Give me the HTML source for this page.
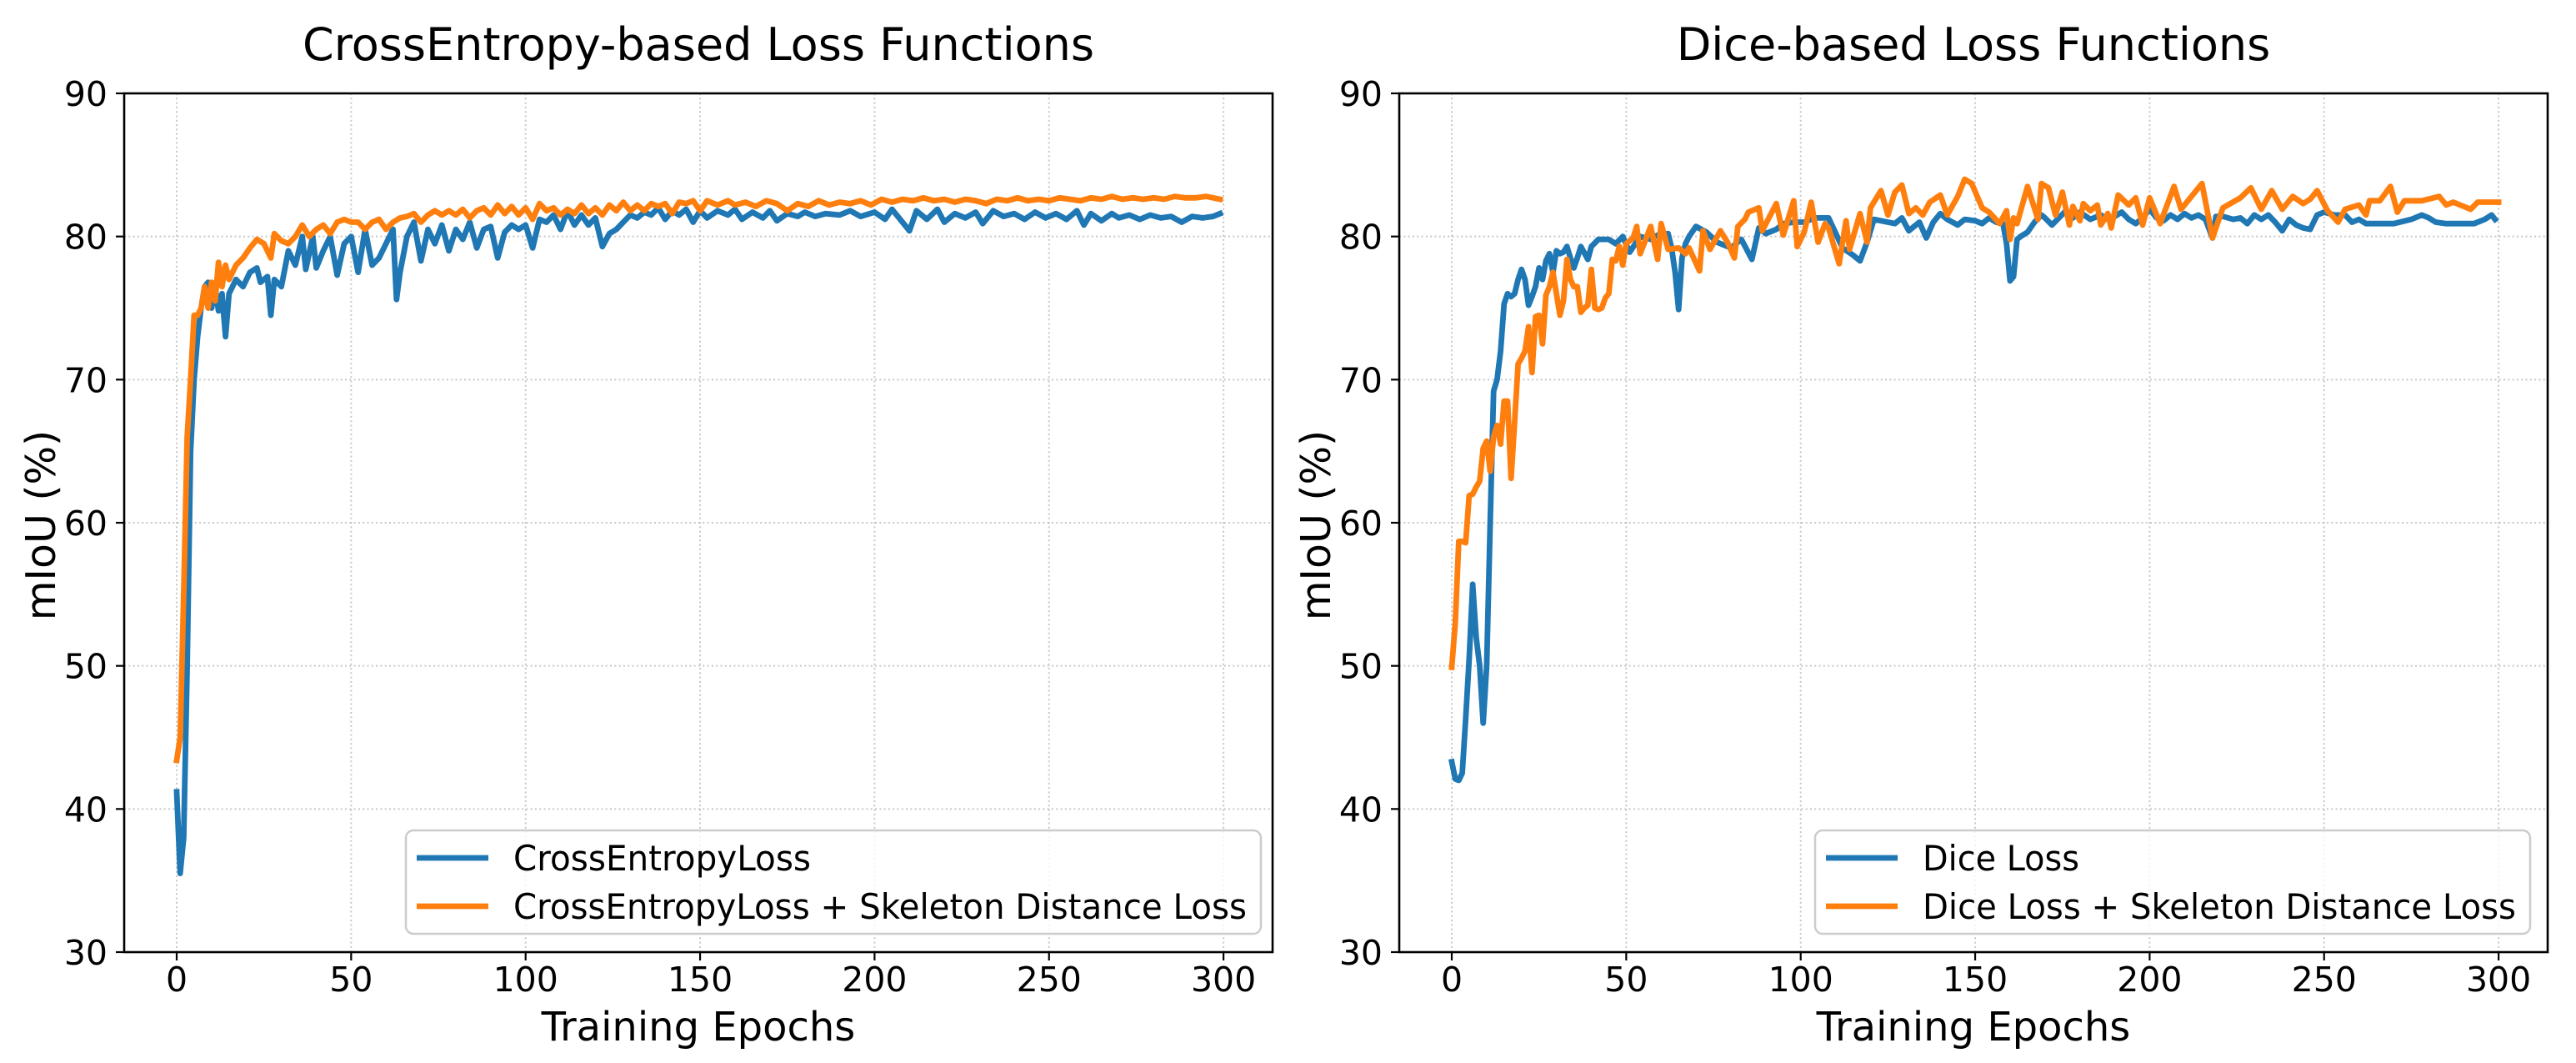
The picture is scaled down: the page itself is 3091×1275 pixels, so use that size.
<!DOCTYPE html>
<html><head><meta charset="utf-8"><style>
html,body{margin:0;padding:0;background:#fff;}
svg{display:block;}
text{font-family:"DejaVu Sans","Liberation Sans",sans-serif;fill:#000;}
</style></head><body>
<svg id="fig" width="3091" height="1275" viewBox="0 0 3091 1275" xmlns="http://www.w3.org/2000/svg"></svg>
<script>
// ---- data ----
const xTicks = [0, 50, 100, 150, 200, 250, 300];
const yTicks = [30, 40, 50, 60, 70, 80, 90];

const ceEpochs = [0,1,2,3,4,5,6,7,8,9,10,11,12,13,14,15,17,19,21,23,24,26,27,28,30,32,34,36,37,39,40,42,44,46,48,50,52,54,56,58,60,62,63,64,66,68,70,72,74,76,78,80,82,84,86,88,90,92,94,96,98,100,102,104,106,108,110,112,114,116,118,120,122,124,126,128,130,132,134,136,138,140,142,144,146,148,150,152,155,158,160,162,165,168,170,172,175,178,180,183,186,190,193,196,200,203,205,208,210,212,215,218,220,223,226,229,231,234,237,240,243,246,249,252,255,258,260,262,265,268,270,273,276,279,282,285,288,291,294,297,299];
const ceVals = [41.2,35.5,38,50,65,70,73,75,76.5,76.8,75,76.5,74.8,76,73,76,77,76.5,77.5,77.8,76.8,77.2,74.5,77,76.5,79,78,80,77.7,80,77.8,79,80,77.3,79.5,80,77.5,80.5,78,78.5,79.5,80.5,75.6,77.5,80,81,78.3,80.5,79.5,80.8,79,80.5,79.8,81,79.2,80.5,80.7,78.5,80.3,80.8,80.5,80.8,79.2,81.2,81,81.5,80.5,81.8,80.8,81.5,80.8,81.3,79.3,80.2,80.5,81,81.5,81.3,81.7,81.5,82,81.2,81.8,81.5,81.9,81,81.8,81.3,81.8,81.5,81.9,81.2,81.7,81.3,81.8,81.1,81.6,81.4,81.7,81.4,81.6,81.5,81.8,81.4,81.7,81.2,81.9,81,80.4,81.8,81.2,81.9,81,81.6,81.3,81.7,80.9,81.8,81.4,81.6,81.2,81.7,81.3,81.6,81.2,81.8,80.8,81.6,81.1,81.6,81.3,81.5,81.2,81.5,81.3,81.4,81,81.4,81.3,81.4,81.6];

const ceSkEpochs = [0,1,2,3,4,5,6,7,8,9,10,11,12,13,14,15,17,19,21,23,25,27,28,30,32,34,36,38,40,42,44,46,48,50,52,54,56,58,60,62,64,66,68,70,72,74,76,78,80,82,84,86,88,90,92,94,96,98,100,102,104,106,108,110,112,114,116,118,120,122,124,126,128,130,132,134,136,138,140,142,144,146,148,150,152,155,158,160,163,166,169,172,175,178,181,184,187,190,193,196,199,202,205,208,211,214,217,220,223,226,229,232,235,238,241,244,247,250,253,256,259,262,265,268,271,274,277,280,283,286,289,292,295,299];
const ceSkVals = [43.4,45,55,66,70,74.5,74.5,75,76.5,75,76.8,75.5,78.2,76.5,78,77,78,78.5,79.2,79.8,79.5,78.5,80.2,79.7,79.5,80,80.8,80,80.5,80.8,80.2,81,81.2,81,81,80.5,81,81.2,80.5,81,81.3,81.4,81.6,81,81.5,81.8,81.5,81.8,81.5,81.9,81.3,81.8,82,81.5,82.2,81.6,82.1,81.5,82,81.2,82.3,81.8,82,81.5,81.9,81.6,82.2,81.6,82,81.5,82.2,81.8,82.4,81.8,82.2,81.8,82.3,82.1,82.3,81.6,82.4,82.3,82.5,81.8,82.5,82.2,82.5,82.2,82.4,82.1,82.5,82.3,81.8,82.3,82.1,82.5,82.2,82.4,82.3,82.5,82.2,82.6,82.4,82.6,82.5,82.7,82.5,82.6,82.4,82.6,82.5,82.3,82.6,82.5,82.7,82.5,82.6,82.5,82.7,82.6,82.5,82.7,82.6,82.8,82.6,82.7,82.6,82.7,82.6,82.8,82.7,82.7,82.8,82.6];

const diceEpochs = [0,1,2,3,4,5,6,7,8,9,10,11,12,13,14,15,16,17,18,19,20,21,22,23,24,25,26,27,28,29,30,31,32,33,34,35,36,37,39,40,42,45,47,49,51,54,57,59,62,63,64,65,66,67,68,70,73,76,80,83,86,88,90,93,95,98,101,104,108,112,115,117,119,121,123,127,129,131,134,136,138,140,142,145,147,150,152,154,156,158,159,160,161,162,163,165,167,169,170,172,174,176,178,180,183,186,188,190,192,194,196,198,200,202,204,206,208,210,212,214,216,218,219,221,224,226,228,230,232,234,236,238,240,242,244,246,248,250,253,256,258,260,262,265,270,275,278,280,282,285,290,293,296,298,299];
const diceVals = [43.3,42.1,42,42.5,46.3,50.5,55.7,52,50,46,50,60,69.2,70,72,75.3,76,75.8,76,77,77.7,77,75.2,75.8,76.5,77.8,77,78.3,78.8,77.5,79,78.8,78.9,79.3,78.5,77.8,78.5,79.3,78.4,79.3,79.8,79.8,79.5,80,78.9,80,79.8,80.1,80.2,79.2,77.5,74.9,78.5,79.5,80,80.7,80.3,79.6,79.2,79.8,78.4,80.6,80.2,80.5,80.9,81,81,81.3,81.3,79.2,78.7,78.3,79.6,81.2,81.1,80.9,81.3,80.4,81,79.9,81,81.6,81.2,80.8,81.2,81.1,80.9,81.3,81,80.9,79.5,76.9,77.2,79.8,80,80.3,81,81.5,81.3,80.8,81.3,81.8,81.3,81.7,81.2,81.5,81.2,81.4,81.7,81.2,80.9,81.3,81.9,81.3,81.1,81.5,81.2,81.6,81.3,81.5,81.2,79.9,81.4,81.4,81.2,81.3,80.9,81.5,81.2,81.5,81,80.4,81.2,80.8,80.6,80.5,81.5,81.7,81.5,81.5,81,81.2,80.9,80.9,80.9,81.2,81.5,81.3,81,80.9,80.9,80.9,81.2,81.5,81.2];

const diceSkEpochs = [0,1,2,3,4,5,6,7,8,9,10,11,12,13,14,15,16,17,18,19,20,21,22,23,24,25,26,27,28,29,30,31,32,33,34,35,36,37,38,39,40,41,42,43,44,45,46,47,48,49,50,52,53,54,57,59,60,62,65,67,68,71,72,74,77,79,81,82,84,85,88,89,93,95,98,99,101,103,105,107,108,111,113,114,117,119,120,123,125,127,129,131,133,135,137,140,142,145,147,149,152,154,157,159,160,161,162,165,168,169,171,173,175,177,178,180,181,183,185,186,188,189,191,194,196,198,200,203,207,209,215,218,221,226,229,232,235,238,241,244,246,248,251,254,256,260,262,263,266,269,271,273,278,283,285,287,292,294,300];
const diceSkVals = [49.9,53,58.7,58.7,58.6,61.9,62,62.5,62.9,65.2,65.7,63.6,66,66.8,65.5,68.5,68.5,63.1,67,71.1,71.5,72,73.7,70.5,74.4,74.5,72.5,75.9,76.5,77.5,76,74.5,75.5,78.4,77,76.5,76.5,74.7,75,75.2,77.7,75,74.9,75,75.7,76,78.4,78.3,79.3,78,79.5,79.9,80.7,78.8,80.7,78.4,80.9,79.1,79.2,78.8,79.2,77.6,80.4,79.1,80.4,79.6,78.5,80.7,81.2,81.7,82,80.4,82.3,80.1,82.5,79.3,80.3,82.4,79.6,80.9,80.6,78.1,81.1,79.1,81.6,79.6,82,83.2,81.5,83.1,83.6,81.6,82,81.5,82.4,82.9,81.5,82.8,84,83.7,82,81.7,80.9,81.8,79.8,81.3,80.9,83.5,81.2,83.7,83.4,81.5,83.1,80.8,82.1,81.1,82.3,81.8,82.2,80.8,81.6,80.6,82.9,82.2,82.7,80.8,82.7,80.9,83.5,81.9,83.7,79.9,82,82.7,83.4,81.9,83.2,81.9,82.8,82.3,82.6,83.2,81.8,81,81.9,82.2,81.5,82.5,82.5,83.5,81.7,82.5,82.5,82.8,82.2,82.4,81.9,82.4,82.4];

// ---- layout ----
const NS = "http://www.w3.org/2000/svg";
const svg = document.getElementById('fig');
const Y_TOP = 112, Y_BOT = 1142, PX_PER_UNIT = (Y_BOT - Y_TOP) / 60, PX_PER_EPOCH = 4.187;
function mk(tag, attrs, parent) {
  const e = document.createElementNS(NS, tag);
  for (const k in attrs) e.setAttribute(k, attrs[k]);
  (parent || svg).appendChild(e);
  return e;
}
function yScale(v) { return Y_TOP + (90 - v) * PX_PER_UNIT; }

function panel(cfg) {
  const g = mk('g', {});
  
  
  const xScale = e => cfg.x0tick + e * PX_PER_EPOCH;
  xTicks.forEach(t => {
    const l = mk('line', {x1: xScale(t), x2: xScale(t), y1: Y_TOP, y2: Y_BOT, stroke: '#b0b0b0', 'stroke-width': 2, 'stroke-dasharray': '2,3.3', opacity: 0.7}, g);
    
    
  });
  yTicks.forEach(t => {
    const l = mk('line', {x1: cfg.left, x2: cfg.right, y1: yScale(t), y2: yScale(t), stroke: '#b0b0b0', 'stroke-width': 2, 'stroke-dasharray': '2,3.3', opacity: 0.7}, g);
    
    
  });
  cfg.series.forEach(s => {
    const d = s.ep.map((e, i) => (i ? 'L' : 'M') + xScale(e).toFixed(1) + ',' + yScale(s.v[i]).toFixed(1)).join(' ');
    const p = mk('path', {d: d, fill: 'none', stroke: s.color, 'stroke-width': 6.8, 'stroke-linejoin': 'round', 'stroke-linecap': 'square'}, g);
    
    
  });
  const fr = mk('rect', {x: cfg.left, y: Y_TOP, width: cfg.right - cfg.left, height: Y_BOT - Y_TOP, fill: 'none', stroke: '#000', 'stroke-width': 2.6}, g);
  
  
  xTicks.forEach(t => {
    mk('line', {x1: xScale(t), x2: xScale(t), y1: Y_BOT, y2: Y_BOT + 10, stroke: '#000', 'stroke-width': 2.2}, g);
    const tx = mk('text', {x: xScale(t), y: 1189, 'font-size': 41, 'text-anchor': 'middle'}, g);
    tx.textContent = t;
    
    
  });
  yTicks.forEach(t => {
    mk('line', {x1: cfg.left - 10, x2: cfg.left, y1: yScale(t), y2: yScale(t), stroke: '#000', 'stroke-width': 2.2}, g);
    const tx = mk('text', {x: cfg.left - 20, y: yScale(t) + 15, 'font-size': 41, 'text-anchor': 'end'}, g);
    tx.textContent = t;
    
    
  });
  const cx = (cfg.left + cfg.right) / 2;
  const ti = mk('text', {x: cx, y: 72, 'font-size': 54, 'text-anchor': 'middle'}, g);
  ti.textContent = cfg.title;
  
  
  const xl = mk('text', {x: cx, y: 1248, 'font-size': 48, 'text-anchor': 'middle'}, g);
  xl.textContent = 'Training Epochs';
  
  
  const yl = mk('text', {x: 0, y: 0, 'font-size': 49, 'text-anchor': 'middle', transform: 'translate(' + (cfg.left - 83) + ',630) rotate(-90)'}, g);
  yl.textContent = 'mIoU (%)';
  
  
  const lg = mk('g', {}, g);
  
  
  mk('rect', {x: cfg.leg.x, y: 996, width: cfg.leg.w, height: 124, rx: 9, fill: '#fff', 'fill-opacity': 0.8, stroke: '#cccccc', 'stroke-width': 2.5}, lg);
  cfg.series.forEach((s, i) => {
    const yy = 1029 + i * 58;
    const ent = mk('g', {}, lg);
    
    
    mk('line', {x1: cfg.leg.x + 13, x2: cfg.leg.x + 99, y1: yy, y2: yy, stroke: s.color, 'stroke-width': 6.8}, ent);
    const t = mk('text', {x: cfg.leg.x + 129, y: yy + 15, 'font-size': 42, textLength: s.tw, lengthAdjust: 'spacingAndGlyphs'}, ent);
    t.textContent = s.label;
  });
}

panel({name: 'crossentropy-panel', left: 149, right: 1527, x0tick: 212, title: 'CrossEntropy-based Loss Functions',
  leg: {x: 487, w: 1026},
  series: [
    {name: 'crossentropy-line', ep: ceEpochs, v: ceVals, color: '#1f77b4', label: 'CrossEntropyLoss', tw: 357},
    {name: 'crossentropy-skeleton-line', ep: ceSkEpochs, v: ceSkVals, color: '#ff7f0e', label: 'CrossEntropyLoss + Skeleton Distance Loss', tw: 880}
  ]});
panel({name: 'dice-panel', left: 1679, right: 3057, x0tick: 1742, title: 'Dice-based Loss Functions',
  leg: {x: 2178, w: 858},
  series: [
    {name: 'dice-line', ep: diceEpochs, v: diceVals, color: '#1f77b4', label: 'Dice Loss', tw: 188},
    {name: 'dice-skeleton-line', ep: diceSkEpochs, v: diceSkVals, color: '#ff7f0e', label: 'Dice Loss + Skeleton Distance Loss', tw: 712}
  ]});
</script>
</body></html>
